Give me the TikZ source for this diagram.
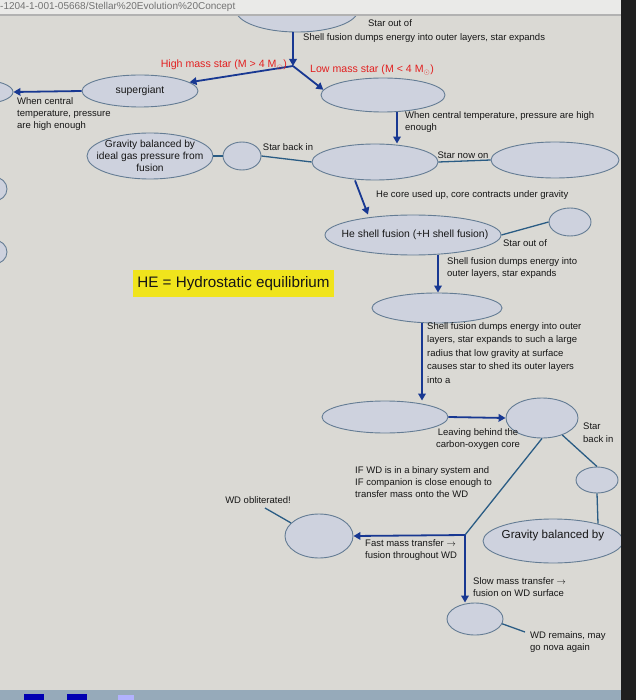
\documentclass[tikz,border=0pt]{standalone}
\usepackage{fontspec}
\setmainfont{Liberation Sans}
\usetikzlibrary{shapes.geometric,arrows.meta,positioning}
\definecolor{pagebg}{RGB}{218,217,212}
\definecolor{stagefill}{RGB}{206,210,222}
\definecolor{stageline}{RGB}{100,124,148}
\definecolor{flowblue}{RGB}{24,56,146}
\definecolor{linkblue}{RGB}{42,92,132}
\definecolor{massred}{RGB}{226,32,32}
\definecolor{heyellow}{RGB}{240,228,28}
\definecolor{notegrey}{RGB}{22,22,22}
\definecolor{barbg}{RGB}{234,234,232}
\definecolor{taskbar}{RGB}{150,170,186}
\begin{document}
\begin{tikzpicture}[x=1pt,y=-1pt,
  stage/.style={ellipse,draw=stageline,fill=stagefill,line width=0.9pt,inner sep=0pt,align=center,
    font=\fontsize{10.4}{12.8}\selectfont,text=notegrey},
  inside/.style={inner sep=0pt,align=center,font=\fontsize{10.2}{12.2}\selectfont,text=notegrey},
  flow/.style={draw=flowblue,line width=1.8pt,-{Triangle[length=7pt,width=7.5pt]}},
  link/.style={draw=linkblue,line width=1.3pt},
  note/.style={font=\fontsize{9.5}{12.4}\selectfont,align=left,inner sep=0pt,text=notegrey},
  mass/.style={font=\fontsize{10.6}{12}\selectfont,inner sep=0pt,text=massred}]%
% stellar evolution concept map, photographed worksheet
\useasboundingbox (0,0) rectangle (636,700);
\clip (0,0) rectangle (636,700);
\fill[pagebg] (0,0) rectangle (636,700);
% stages
\node[stage,minimum width=122pt,minimum height=44pt] (topstage) at (297,10) {};
\node[stage,minimum width=28pt,minimum height=24pt] (topsmall) at (412,0) {};
\node[stage,minimum width=116pt,minimum height=32pt] (supergiant) at (140,91) {supergiant};
\node[stage,minimum width=66pt,minimum height=24pt] (farleft) at (-20,92) {};
\node[stage,minimum width=124pt,minimum height=34pt] (lowstage) at (383,95) {};
\node[stage,minimum width=126pt,minimum height=46pt] (gravity1) at (150,156) {};
\node[inside] (gravity1lbl) at (gravity1) {Gravity balanced by\\ideal gas pressure from\\fusion};
\node[stage,minimum width=38pt,minimum height=28pt] (backin) at (242,156) {};
\node[stage,minimum width=126pt,minimum height=36pt] (midstage) at (375,162) {};
\node[stage,minimum width=128pt,minimum height=36pt] (rightstage) at (555,160) {};
\node[stage,minimum width=26pt,minimum height=24pt] (leftdot1) at (-6,189) {};
\node[stage,minimum width=26pt,minimum height=24pt] (leftdot2) at (-6,252) {};
\node[stage,minimum width=176pt,minimum height=40pt] (heshell) at (413,235) {};
\node[inside,font=\fontsize{10.4}{12}\selectfont] (heshelllbl) at (415,235) {He shell fusion (+H shell fusion)};
\node[stage,minimum width=42pt,minimum height=28pt] (outof) at (570,222) {};
\node[stage,minimum width=130pt,minimum height=30pt] (redgiant) at (437,308) {};
\node[stage,minimum width=126pt,minimum height=32pt] (nebula) at (385,417) {};
\node[stage,minimum width=72pt,minimum height=40pt] (wdstage) at (542,418) {};
\node[stage,minimum width=42pt,minimum height=26pt] (backin2) at (597,480) {};
\node[stage,minimum width=140pt,minimum height=44pt] (gravity2) at (553,541) {};
\node[stage,minimum width=68pt,minimum height=44pt] (oblit) at (319,536) {};
\node[stage,minimum width=56pt,minimum height=32pt] (smallwd) at (475,619) {};
\node[fill=heyellow,minimum width=201pt,minimum height=27pt,inner sep=0pt,
  font=\fontsize{15.2}{17}\selectfont,text=notegrey] (hekey) at (233.5,283.5) {HE = Hydrostatic equilibrium};
% free ends and forks
\coordinate (fork) at (293,66);
\coordinate (wdfork) at (465,535);
\coordinate (oblitend) at (265,508);
\coordinate (novaend) at (525,632);
% connectors
\draw[flow] (topstage.south -| fork) -- (fork);
\draw[flow] (fork) -- (supergiant.10);
\draw[flow] (fork) -- (lowstage.175);
\draw[flow] (supergiant.west) -- (farleft.east);
\draw[flow] ([xshift=14pt]lowstage.south) -- ([xshift=22pt]midstage.north);
\draw[link] (gravity1.east) -- (backin.west);
\draw[link] (backin.east) -- (midstage.west);
\draw[link] (midstage.east) -- (rightstage.west);
\draw[flow] ([xshift=-20pt]midstage.south) -- ([xshift=-45pt]heshell.north);
\draw[link] (heshell.east) -- (outof.west);
\draw[flow] ([xshift=25pt]heshell.south) -- ([xshift=1pt]redgiant.north);
\draw[flow] ([xshift=-15pt]redgiant.south) -- ([xshift=37pt]nebula.north);
\draw[flow] (nebula.east) -- (wdstage.west);
\draw[link] (wdstage.-40) -- (backin2.north);
\draw[link] (backin2.south) -- (gravity2.21);
\draw[link] (wdstage.south) -- (wdfork);
\draw[flow] (wdfork) -- (oblit.east);
\draw[flow] (wdfork) -- (wdfork |- smallwd.north);
\draw[link] (oblitend) -- (oblit.155);
\draw[link] (smallwd.-10) -- (novaend);
% labels
\node[note] (outoftop) at (390,23) {Star out of};
\node[note,anchor=west] (shelltop) at (303,38) {Shell fusion dumps energy into outer layers, star expands};
\node[mass,anchor=east] (highmass) at (287,65) {High mass star (M > 4 M$_\odot$)};
\node[mass,anchor=west] (lowmass) at (310,70) {Low mass star (M < 4 M$_\odot$)};
\node[note,anchor=north west] (hotleft) at (17,97) {When central\\temperature, pressure\\are high enough};
\node[note,anchor=north west] (hotright) at (405,111) {When central temperature, pressure are high\\enough};
\node[note] (backinlbl) at (288,147) {Star back in};
\node[note] (nowonlbl) at (463,155) {Star now on};
\node[note,anchor=west] (coreused) at (376,195) {He core used up, core contracts under gravity};
\node[note] (outoflbl) at (525,243) {Star out of};
\node[note,anchor=north west] (shellmid) at (447,257) {Shell fusion dumps energy into\\outer layers, star expands};
\node[note,anchor=north west,font=\fontsize{9.5}{13.6}\selectfont] (shedlbl) at (427,322)
  {Shell fusion dumps energy into outer\\layers, star expands to such a large\\radius that low gravity at surface\\causes star to shed its outer layers\\into a};
\node[note,align=center] (leavinglbl) at (478,439) {Leaving behind the\\carbon-oxygen core};
\node[note,anchor=north west] (backin2lbl) at (583,423) {Star\\back in};
\node[note,anchor=north west] (binarylbl) at (355,466)
  {IF WD is in a binary system and\\IF companion is close enough to\\transfer mass onto the WD};
\node[note] (obliterated) at (258,500) {WD obliterated!};
\node[note,anchor=north west] (fastlbl) at (365,539) {Fast mass transfer $\rightarrow$\\fusion throughout WD};
\node[note,anchor=north west] (slowlbl) at (473,577) {Slow mass transfer $\rightarrow$\\fusion on WD surface};
\node[note,anchor=north west] (novalbl) at (530,631) {WD remains, may\\go nova again};
\node[inside,font=\fontsize{11.6}{13}\selectfont] (gravity2lbl) at (553,535) {Gravity balanced by};
% screen edges of the photo
\fill[barbg] (0,0) rectangle (636,14);
\fill[black!30] (0,14) rectangle (636,16);
\node[anchor=west,inner sep=0pt,font=\fontsize{10}{12}\selectfont,text=black!55] (urlbar) at (0,6.5)
  {-1204-1-001-05668/Stellar\%20Evolution\%20Concept};
\fill[black!88] (621,0) rectangle (636,700);
\fill[taskbar] (0,690) rectangle (621,700);
\fill[blue!70!black] (24,694) rectangle (44,700);
\fill[blue!70!black] (67,694) rectangle (87,700);
\fill[blue!30!white] (118,695) rectangle (134,700);
\end{tikzpicture}
\end{document}
